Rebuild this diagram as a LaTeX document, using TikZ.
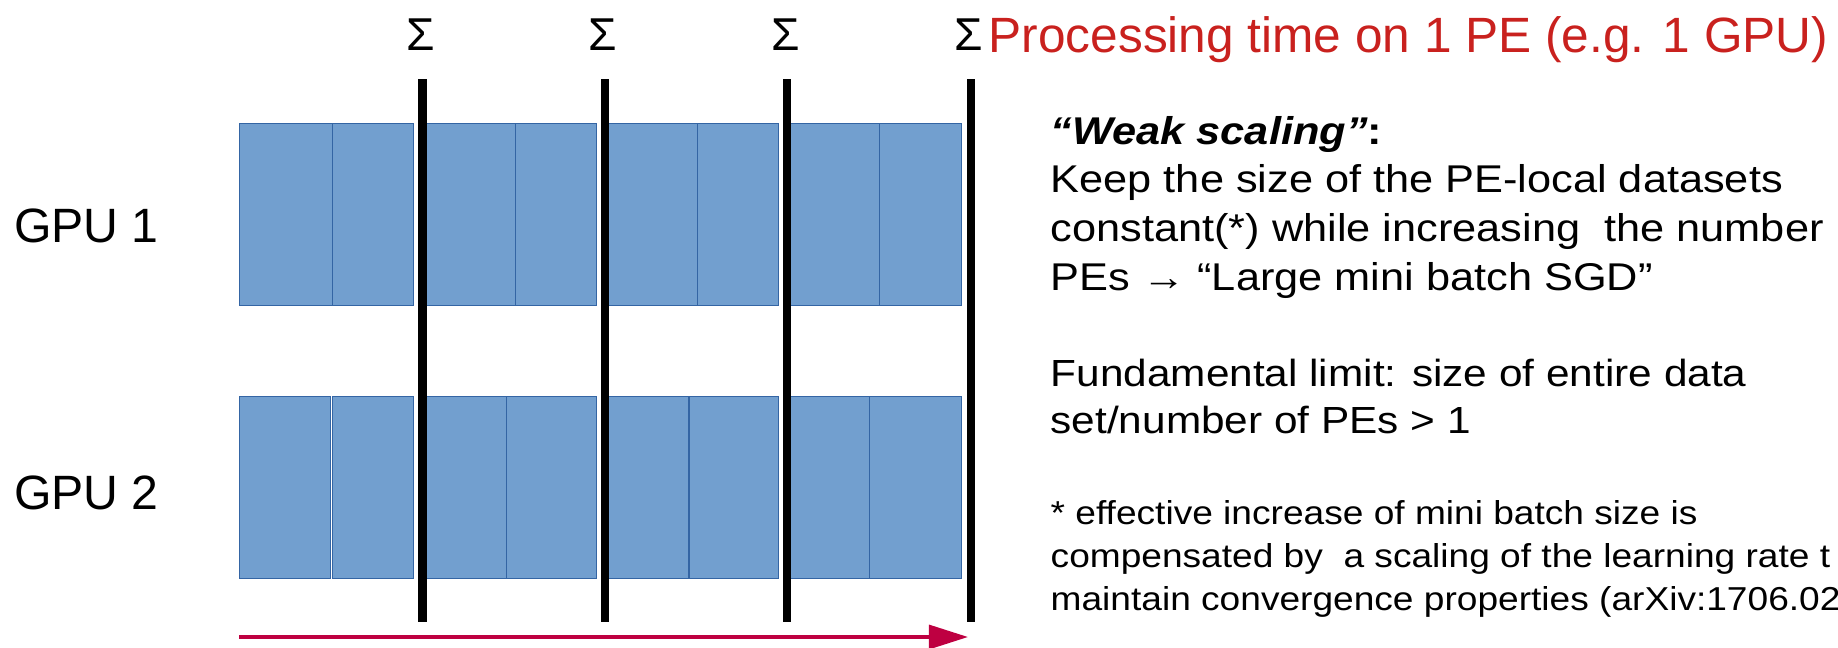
\documentclass[tikz,border=0pt]{standalone}
\usepackage{fontspec}
\setmainfont{Liberation Sans}
\newfontfamily\widesans[FakeStretch=1.12]{Liberation Sans}
\usetikzlibrary{arrows.meta}
\definecolor{blkfill}{HTML}{729FCF}
\definecolor{blkline}{HTML}{3465A4}
\definecolor{titlered}{HTML}{C9211E}
\definecolor{timered}{HTML}{BE0041}

\begin{document}
\begin{tikzpicture}[x=0.01cm,y=-0.01cm,
                    blk/.style={draw=blkline,fill=blkfill,line width=0.3pt,inner sep=0pt,anchor=north west,minimum height=1.82cm},
                    syncbar/.style={line width=2.3pt},
                    sigma/.style={font=\fontsize{13.1}{15}\selectfont,inner sep=0pt,anchor=base},
                    gpu/.style={font=\fontsize{13.7}{16}\selectfont,inner sep=0pt,anchor=base west},
                    note/.style={font=\widesans\fontsize{11}{13.83}\selectfont,align=left,inner sep=0pt,anchor=base west},
                    timeline/.style={draw=timered,line width=1pt,-{Triangle[length=11.1pt,width=6.8pt]}}]
    \useasboundingbox (0,0) rectangle (1838,648);
    \foreach \l/\r [count=\i] in {239.3/331.7,331.7/412.7,422/515,515/596.3,605/697,697/777.7,787/879,879/961}
        \node[blk,minimum width={(\r-\l)*0.01cm}] (a\i) at (\l,123.3) {};
    \foreach \l/\r [count=\i] in {239.3/329.7,332/412.7,422/506,506/596.3,605/687.7,689.3/777.7,787/869.3,869.3/961}
        \node[blk,minimum width={(\r-\l)*0.01cm}] (b\i) at (\l,396) {};
    \foreach \x [count=\i] in {422.5,605,787.3,971} {
        \coordinate (top\i) at (\x,79);
        \coordinate (bot\i) at (\x,622);
        \draw[syncbar] (top\i) -- (bot\i);
        \node[sigma] (sum\i) at (\x-2,50) {Σ};
    }
    \node[gpu] (gpu1) at (13.5,242.7) {GPU 1};
    \node[gpu] (gpu2) at (13.5,509) {GPU 2};
    \node[anchor=base west,inner sep=0pt,text=titlered,font=\fontsize{14.1}{17}\selectfont] (title) at (988,52) {Processing time on 1 PE (e.g. 1 GPU)};
    \node[note] (weak) at (1050,290) {\textbf{\textit{“Weak scaling”}:}\\Keep the size of the PE-local datasets\\constant(*) while increasing\ \ the number\\PEs → “Large mini batch SGD”};
    \node[note,font=\widesans\fontsize{10.75}{13.3}\selectfont] (limit) at (1050,433.3) {Fundamental limit: size of entire data\\set/number of PEs > 1};
    \node[note,font=\widesans\fontsize{9.42}{12.1}\selectfont] (foot) at (1050,610) {* effective increase of mini batch size is\\compensated by\ \ a scaling of the learning rate t\\maintain convergence properties (arXiv:1706.02};
    \coordinate (t0) at (239,637);
    \coordinate (t1) at (968,637);
    \draw[timeline] (t0) -- (t1);
\end{tikzpicture}
\end{document}
